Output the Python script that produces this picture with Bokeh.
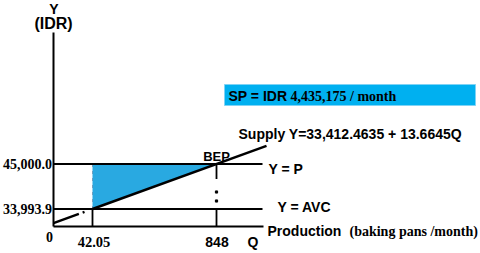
from bokeh.plotting import figure
from bokeh.models import Range1d
from bokeh.core.properties import value
from bokeh.embed import file_html
from bokeh.resources import INLINE

# ---- data (values shown in the diagram) ----
q_ticks = [0, 42.05, 848]
q_tick_labels = ["0", "42.05", "848"]
y_levels = [33993.9, 45000.0]
y_level_labels = ["33,993.9", "45,000.0"]
line_labels = ["Y = AVC", "Y = P"]
supply_intercept = 33412.4635
supply_slope = 13.6645
sp_text_sans = "SP = IDR "
sp_text_serif = "4,435,175 / month"
supply_label = "Supply Y=33,412.4635 + 13.6645Q"

# ---- schematic layout (diagram is not to scale) ----
qpos = {0: 53, 42.05: 92, 848: 216}
ypos = {0: 226, 33993.9: 208.5, 45000.0: 163.5}
x_end = 262
y_top = 32

SANS = value("Liberation Sans")
SERIF = value("Liberation Serif")

p = figure(width=480, height=253, x_range=Range1d(0, 480), y_range=Range1d(253, 0),
           output_backend="svg", toolbar_location=None, min_border=0,
           x_axis_location=None, y_axis_location=None)
p.xgrid.visible = False
p.ygrid.visible = False
p.outline_line_color = None
p.background_fill_color = "white"
p.border_fill_color = "white"

x0 = qpos[0]
xa, xb = qpos[42.05], qpos[848]
ya, yb = ypos[33993.9], ypos[45000.0]
slope = (yb - ya) / (xb - xa)

# shaded triangle (surplus area)
p.patch([xa, xb, xa], [yb, yb, ya], fill_color="#29A9E1", line_color=None)
p.line([xa, xa], [yb, ya], line_color="#6f9fbf", line_width=1, line_dash="3 4")

# axes
p.line([x0, x0], [y_top, ypos[0]], line_color="black", line_width=2)
p.line([x0, x_end + 1], [ypos[0], ypos[0]], line_color="black", line_width=2)

# horizontal levels
for lv in y_levels:
    p.line([x0, x_end], [ypos[lv], ypos[lv]], line_color="black", line_width=1.8)

# verticals
p.line([xa, xa], [ya, ypos[0]], line_color="black", line_width=1.8)
p.line([xb, xb], [yb, yb + 15], line_color="black", line_width=1.8)
p.line([xb, xb], [ya, ypos[0]], line_color="black", line_width=1.8)
p.scatter([xb, xb], [yb + 28, yb + 37], marker="square", size=2.2, color="black")

# supply line
x_sup_end = 266
p.line([x0, xa], [ya - slope * (xa - x0), ya], line_color="black", line_width=2.5,
       line_dash="27 4 2 40")
p.line([xa, x_sup_end], [ya, ya + slope * (x_sup_end - xa)], line_color="black", line_width=2.5)

# SP box
p.quad(left=224, right=475, top=84, bottom=105, fill_color="#00B0F0",
       line_color="#7fd3f5", line_width=1)
p.text(x=[228], y=[95], text=[sp_text_sans], text_font=SANS, text_font_style="bold",
       text_font_size="14px", text_baseline="middle", text_align="left", text_color="black")
p.text(x=[290], y=[95.5], text=[sp_text_serif], text_font=SERIF, text_font_style="bold",
       text_font_size="14px", text_baseline="middle", text_align="left", text_color="black")

# supply label
p.text(x=[238], y=[133], text=[supply_label], text_font=SANS, text_font_style="bold",
       text_font_size="14px", text_baseline="middle", text_align="left", text_color="black")

# BEP
p.text(x=[216], y=[156], text=["BEP"], text_font=SANS, text_font_style="bold",
       text_font_size="13px", text_baseline="middle", text_align="center", text_color="black")

# line labels
p.text(x=[277, 268], y=[206.5, 168], text=line_labels, text_font=SANS, text_font_style="bold",
       text_font_size="14px", text_baseline="middle", text_align="left", text_color="black")

# x-axis title
p.text(x=[267], y=[230], text=["Production"], text_font=SANS, text_font_style="bold",
       text_font_size="14px", text_baseline="middle", text_align="left", text_color="black")
p.text(x=[349], y=[230.5], text=["(baking pans /month)"], text_font=SERIF, text_font_style="bold",
       text_font_size="14px", text_baseline="middle", text_align="left", text_color="black")

# y-axis title
p.text(x=[53.5], y=[8], text=["Y"], text_font=SANS, text_font_style="bold",
       text_font_size="14px", text_baseline="middle", text_align="center", text_color="black")
p.text(x=[53], y=[22.5], text=["(IDR)"], text_font=SANS, text_font_style="bold",
       text_font_size="16px", text_baseline="middle", text_align="center", text_color="black")

# y tick labels
p.text(x=[51.5, 51.5], y=[ypos[lv] for lv in y_levels], text=y_level_labels, text_font=SERIF,
       text_font_style="bold", text_font_size="14px", text_baseline="middle",
       text_align="right", text_color="black")

# x tick labels
p.text(x=[49], y=[236], text=[q_tick_labels[0]], text_font=SERIF, text_font_style="bold",
       text_font_size="14px", text_baseline="middle", text_align="center", text_color="black")
p.text(x=[93.5], y=[241.5], text=[q_tick_labels[1]], text_font=SERIF, text_font_style="bold",
       text_font_size="14.5px", text_baseline="middle", text_align="center", text_color="black")
p.text(x=[216.5, 252.5], y=[241.5, 241.5], text=[q_tick_labels[2], "Q"], text_font=SANS,
       text_font_style="bold", text_font_size="14px", text_baseline="middle",
       text_align="center", text_color="black")

open("out.html", "w").write(file_html(p, INLINE))
